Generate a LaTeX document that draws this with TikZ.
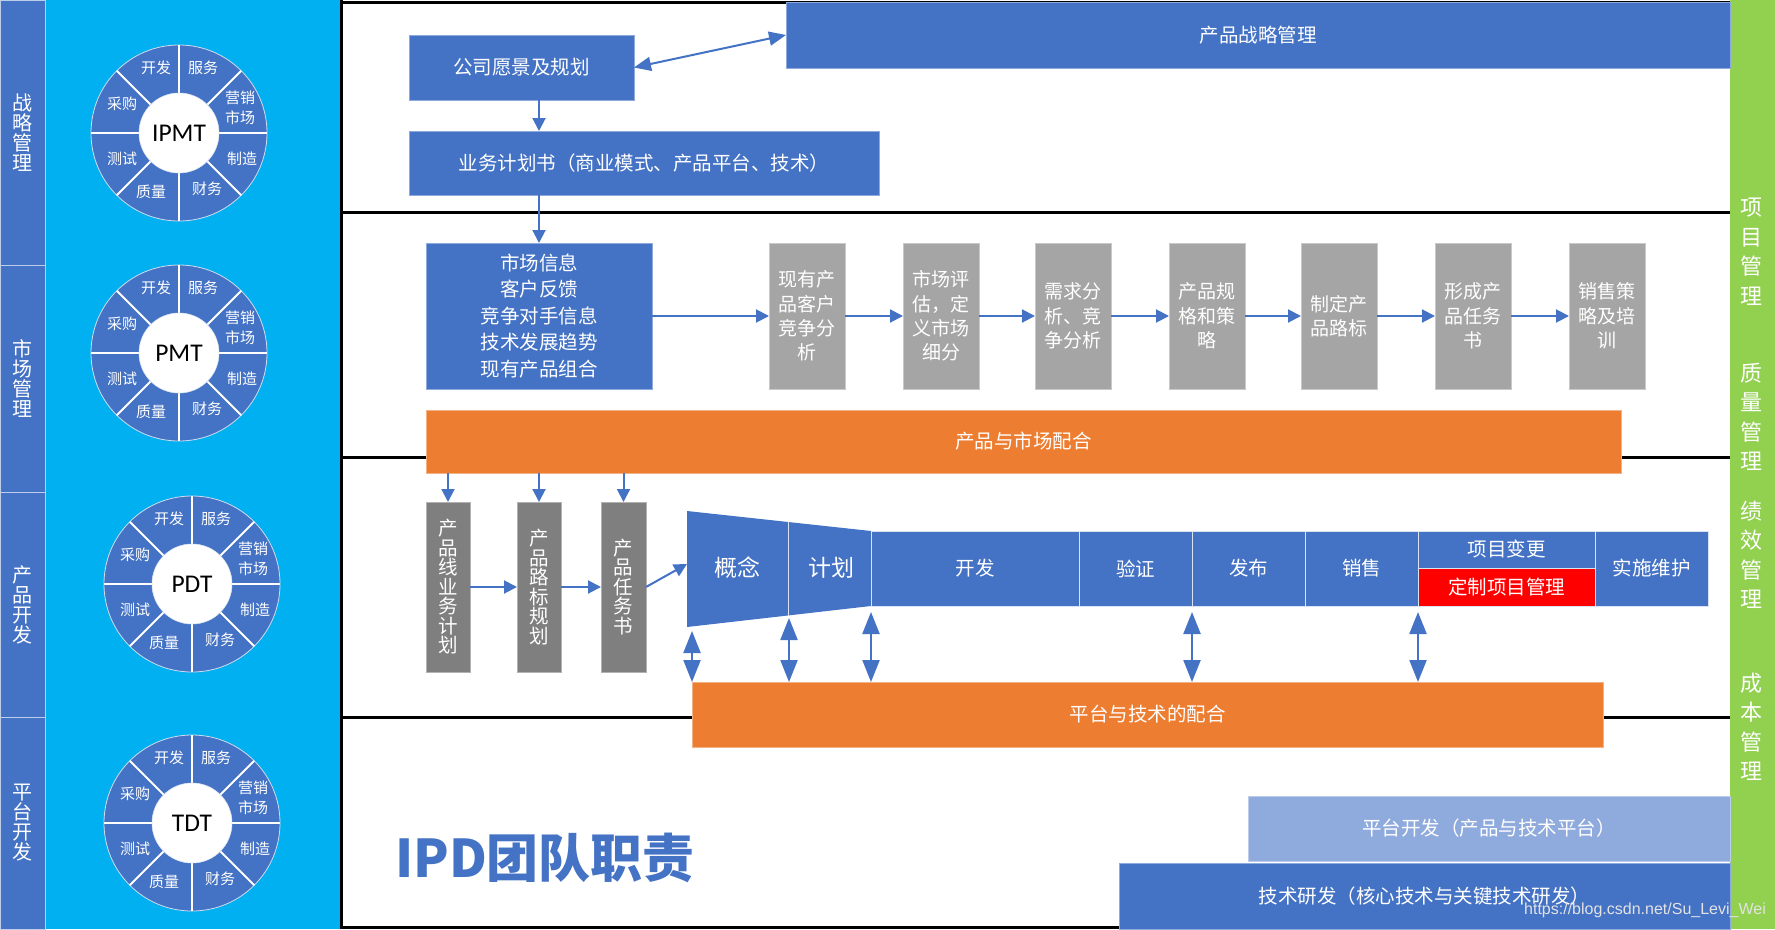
\documentclass[tikz,border=0pt]{standalone}
\usepackage{fontspec}
\setmainfont{Noto Sans CJK SC}
\newfontfamily\latinf{Carlito}
\newfontfamily\wmfont{Liberation Sans}
\usetikzlibrary{arrows.meta}
\definecolor{ipdblue}{HTML}{4472C4}
\definecolor{ipdcyan}{HTML}{00B0F0}
\definecolor{ipdgreen}{HTML}{92D050}
\definecolor{ipdgray}{HTML}{A5A5A5}
\definecolor{ipddgray}{HTML}{7F7F7F}
\definecolor{ipdorange}{HTML}{ED7D31}
\definecolor{ipdlight}{HTML}{8FAADC}
\definecolor{ipdred}{HTML}{FF0000}
\newcommand\fs[2]{\fontsize{#1}{#2}\selectfont}
\newcommand\rectnode[7]{\node[rbox,#6,minimum width={#4-#2},minimum height={#5-#3}] (#1) at ({(#2+#4)/2},{(#3+#5)/2}) {#7};}
\tikzset{
  rbox/.style={inner sep=0pt, outer sep=0pt, text=white, align=center, line width=0.7pt},
  bluebox/.style={fill=ipdblue, draw=ipdblue!60!white, font=\fs{19.5}{26.5}},
  graybox/.style={fill=ipdgray, draw=ipdgray!60!white, font=\fs{19}{24.3}},
  vbox/.style={fill=ipddgray, draw=ipddgray!60!white, font=\fs{19.5}{19.5}},
  orangebox/.style={fill=ipdorange, draw=ipdorange!60!white, font=\fs{19.5}{19.5}},
  segbox/.style={fill=ipdblue, draw=white!80!ipdblue, font=\fs{19.5}{19.5}},
  colbox/.style={fill=ipdblue, draw=white!65!ipdblue, line width=1pt, font=\fs{20}{20}},
  gtext/.style={text=white, align=center, inner sep=0pt, font=\fs{22}{29.5}},
  wlabel/.style={text=white, align=center, inner sep=0pt, font=\fs{15}{20}},
  arr/.style={draw=ipdblue, line width=2pt, -{Triangle[length=13pt,width=13pt]}},
  dblarr/.style={draw=ipdblue, line width=2.2pt, {Triangle[length=22pt,width=17pt]}-{Triangle[length=22pt,width=17pt]}},
  dblarrs/.style={draw=ipdblue, line width=2pt, {Triangle[length=17pt,width=14pt]}-{Triangle[length=17pt,width=14pt]}},
  sep/.style={draw=black, line width=3pt},
}
\newcommand\ipdwheel[4]{%
  \begin{scope}[shift={(#2,#3)}]
    \fill[ipdblue] (0,0) circle[radius=88];
    \draw[white!75!ipdblue, line width=0.8pt] (0,0) circle[radius=88];
    \foreach \a in {0,45,...,315} \draw[white, line width=1.8pt] (\a:40) -- (\a:88);
    \node[circle, fill=white, draw=white!80!ipdblue, line width=0.6pt, minimum size=80, inner sep=0pt, font=\latinf\fs{25.5}{25.5}] (#1) at (0,0) {#4};
    \node[wlabel] (#1-kf) at (-23,-65) {开发};
    \node[wlabel] (#1-fw) at (24,-65) {服务};
    \node[wlabel] (#1-yx) at (61,-25) {营销\\市场};
    \node[wlabel] (#1-zz) at (63,26) {制造};
    \node[wlabel] (#1-cw) at (28,56) {财务};
    \node[wlabel] (#1-zl) at (-28,59) {质量};
    \node[wlabel] (#1-cs) at (-57,26) {测试};
    \node[wlabel] (#1-cg) at (-57,-29) {采购};
  \end{scope}}
\begin{document}
\begin{tikzpicture}[x=1pt,y=-1pt]
\useasboundingbox (0,0) rectangle (1775,929);
\fill[white] (0,0) rectangle (1775,929);
% left column
\rectnode{lc1}{0}{0}{45}{265}{colbox}{战\\略\\管\\理}
\rectnode{lc2}{0}{265}{45}{492}{colbox}{市\\场\\管\\理}
\rectnode{lc3}{0}{492}{45}{717}{colbox}{产\\品\\开\\发}
\rectnode{lc4}{0}{717}{45}{929}{colbox}{平\\台\\开\\发}
% cyan panel
\fill[ipdcyan] (45.5,0) rectangle (340,929);
% black frame and separators
\draw[sep] (341.5,0) -- (341.5,929);
\draw[sep] (340,2) -- (1730,2);
\foreach \y in {212,457,717} \draw[sep] (340,\y) -- (1730,\y);
\draw[sep] (340,927) -- (1730,927);
% green bar
\fill[ipdgreen] (1730,0) rectangle (1775,929);
\node[gtext] (g1) at (1751,252) {项\\目\\管\\理};
\node[gtext] (g2) at (1751,417) {质\\量\\管\\理};
\node[gtext] (g3) at (1751,555) {绩\\效\\管\\理};
\node[gtext] (g4) at (1751,727) {成\\本\\管\\理};
% wheels
\ipdwheel{ipmt}{179}{133}{IPMT}
\ipdwheel{pmt}{179}{353}{PMT}
\ipdwheel{pdt}{192}{584}{PDT}
\ipdwheel{tdt}{192}{823}{TDT}
% strategy
\rectnode{cpzl}{786}{2}{1730}{68}{bluebox}{产品战略管理}
\rectnode{gsyj}{409}{35}{634}{100}{bluebox}{公司愿景及规划}
\rectnode{ywjh}{409}{131}{879}{195}{bluebox}{业务计划书（商业模式、产品平台、技术）}
% market
\rectnode{scxx}{426}{243}{652}{389}{bluebox}{市场信息\\客户反馈\\竞争对手信息\\技术发展趋势\\现有产品组合}
\rectnode{s1}{769}{243}{845}{389}{graybox}{现有产\\品客户\\竞争分\\析}
\rectnode{s2}{903}{243}{979}{389}{graybox}{市场评\\估，定\\义市场\\细分}
\rectnode{s3}{1035}{243}{1111}{389}{graybox}{需求分\\析、竞\\争分析}
\rectnode{s4}{1169}{243}{1245}{389}{graybox}{产品规\\格和策\\略}
\rectnode{s5}{1301}{243}{1377}{389}{graybox}{制定产\\品路标}
\rectnode{s6}{1435}{243}{1511}{389}{graybox}{形成产\\品任务\\书}
\rectnode{s7}{1569}{243}{1645}{389}{graybox}{销售策\\略及培\\训}
\rectnode{cpsc}{426}{410}{1621}{473}{orangebox}{产品与市场配合}
% product development
\rectnode{v1}{426}{502}{470}{672}{vbox}{产\\品\\线\\业\\务\\计\\划}
\rectnode{v2}{517}{502}{561}{672}{vbox}{产\\品\\路\\标\\规\\划}
\rectnode{v3}{601}{502}{646}{672}{vbox}{产\\品\\任\\务\\书}
\fill[ipdblue] (687,511) -- (871,531) -- (871,606) -- (687,627) -- cycle;
\draw[white!80!ipdblue, line width=0.8pt] (788,522) -- (788,615.5);
\coordinate (fl) at (687,564);
\coordinate (fb1) at (692,631);
\coordinate (fb2) at (789,618);
\node[text=white, inner sep=0pt, font=\fs{23}{23}] (gn) at (737,568) {概念};
\node[text=white, inner sep=0pt, font=\fs{23}{23}] (jh) at (831,568) {计划};
\rectnode{kf}{871}{531}{1079}{606}{segbox}{开发}
\rectnode{yz}{1079}{531}{1192}{606}{segbox}{验证}
\rectnode{fb}{1192}{531}{1305}{606}{segbox}{发布}
\rectnode{xs}{1305}{531}{1418}{606}{segbox}{销售}
\rectnode{xmbg}{1418}{531}{1595}{568}{segbox}{项目变更}
\rectnode{dz}{1418}{568}{1595}{606}{segbox,fill=ipdred}{定制项目管理}
\rectnode{ss}{1595}{531}{1708}{606}{segbox}{实施维护}
\rectnode{ptjs}{692}{682}{1603}{747}{orangebox}{平台与技术的配合}
% platform
\rectnode{ptkf}{1248}{796}{1730}{861}{bluebox,fill=ipdlight,draw=ipdlight!60!white}{平台开发（产品与技术平台）}
\rectnode{jsyf}{1119}{863}{1730}{929}{bluebox}{技术研发（核心技术与关键技术研发）}
\node[text=ipdblue, inner sep=0pt, font=\bfseries\fs{52}{52}] (title) at (545,858) {IPD团队职责};
\node[text=white!78!gray, inner sep=0pt, font=\wmfont\fs{16}{16}] (wm) at (1645,910) {https://blog.csdn.net/Su\_Levi\_Wei};
% connectors
\draw[dblarrs] (gsyj.east) -- (cpzl.west);
\draw[arr] (scxx.north |- gsyj.south) -- (scxx.north |- ywjh.north);
\draw[arr] (scxx.north |- ywjh.south) -- (scxx.north);
\draw[arr] (scxx.east) -- (s1.west);
\draw[arr] (s1.east) -- (s2.west);
\draw[arr] (s2.east) -- (s3.west);
\draw[arr] (s3.east) -- (s4.west);
\draw[arr] (s4.east) -- (s5.west);
\draw[arr] (s5.east) -- (s6.west);
\draw[arr] (s6.east) -- (s7.west);
\draw[arr] (v1.north |- cpsc.south) -- (v1.north);
\draw[arr] (v2.north |- cpsc.south) -- (v2.north);
\draw[arr] (v3.north |- cpsc.south) -- (v3.north);
\draw[arr] (v1.east) -- (v2.west);
\draw[arr] (v2.east) -- (v3.west);
\draw[arr] (v3.east) -- (fl);
\draw[dblarr] (fb1) -- (fb1 |- ptjs.north);
\draw[dblarr] (fb2) -- (fb2 |- ptjs.north);
\draw[dblarr] ([yshift=-6pt]kf.south west) -- (kf.south west |- ptjs.north);
\draw[dblarr] ([yshift=-6pt]fb.south west) -- (fb.south west |- ptjs.north);
\draw[dblarr] ([yshift=-6pt]dz.south west) -- (dz.south west |- ptjs.north);
\end{tikzpicture}
\end{document}
